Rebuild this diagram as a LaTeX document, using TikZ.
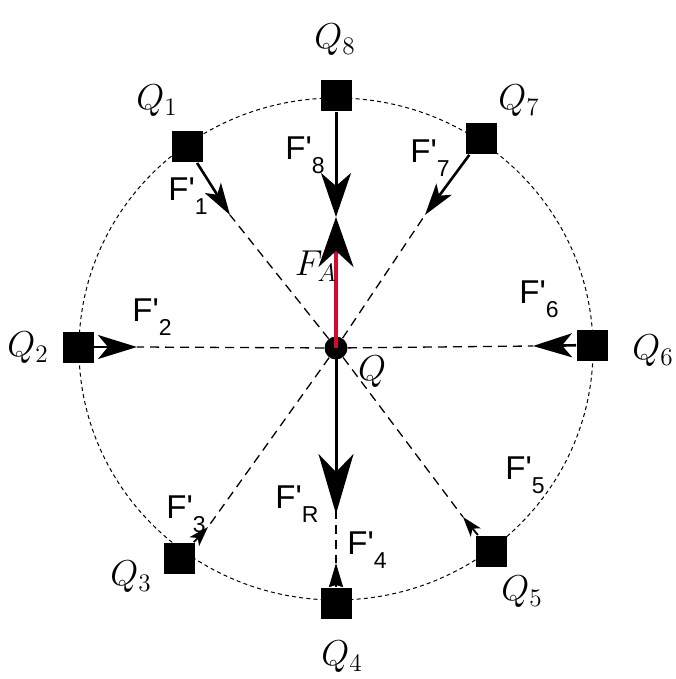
\RequirePackage{fix-cm}
\documentclass[tikz,border=0pt]{standalone}
\usepackage{fontspec}
\newfontfamily\flabelfont{Liberation Sans}
\usetikzlibrary{arrows.meta}
\definecolor{fred}{RGB}{210,10,50}
\newcommand\Fprime[1]{{\flabelfont\fontsize{16.5}{18}\selectfont F\char39\raisebox{-0.42em}{\fontsize{11.5}{12}\selectfont #1}}}
\begin{document}
\begin{tikzpicture}[x=0.5pt,y=-0.5pt,
  charge/.style={rectangle,fill=black,minimum size=15.5pt,inner sep=0pt},
  centre/.style={circle,fill=black,minimum size=11.5pt,inner sep=0pt},
  radial/.style={line width=0.65pt,dash pattern=on 4.5pt off 3pt},
  orbit/.style={line width=0.5pt,dash pattern=on 2pt off 1.6pt},
  bigforce/.style={line width=1.5pt,-{Stealth[length=22pt,width=15pt,inset=6.5pt]}},
  fapull/.style={fred,line width=1.7pt,-{Stealth[black,length=25pt,width=17.5pt,inset=8pt]}},
  resforce/.style={line width=1.5pt,-{Stealth[length=30pt,width=17.5pt,inset=9pt]}},
  medforce/.style={line width=1.3pt,-{Stealth[length=16pt,width=9.5pt,inset=4pt]}},
  sideforce/.style={line width=1.3pt,-{Stealth[length=19.5pt,width=12pt,inset=5pt]}},
  smallforce/.style={line width=0.9pt,-{Stealth[length=10pt,width=6.5pt,inset=2.5pt]}},
  upforce/.style={line width=1pt,-{Stealth[length=12pt,width=7pt,inset=1pt]}},
  qlbl/.style={inner sep=0pt,font=\fontsize{18}{20}\selectfont},
  flbl/.style={inner sep=0pt}
]
\useasboundingbox (0,0) rectangle (675,679);
\draw[orbit] (336,349) ellipse [x radius=257, y radius=251];

\node[centre] (q) at (336,348) {};
\node[charge] (q1) at (187,147) {};
\node[charge] (q2) at (78,347) {};
\node[charge] (q3) at (179,558) {};
\node[charge] (q4) at (336,603) {};
\node[charge] (q5) at (491,551) {};
\node[charge] (q6) at (592,345) {};
\node[charge] (q7) at (481,139) {};
\node[charge] (q8) at (336,96) {};

\coordinate (t1) at (230,215);
\coordinate (t2) at (137,347);
\coordinate (t3) at (208,527);
\coordinate (t4) at (336,563);
\coordinate (t5) at (463,517);
\coordinate (t6) at (533,346);
\coordinate (t7) at (425,215);
\coordinate (t8) at (336,217);
\coordinate (tA) at (336,217);
\coordinate (tR) at (336,514);

\foreach \i in {1,2,3,4,5,6,7} \draw[radial] (q) -- (t\i);

\draw[bigforce] (q8) -- (t8);
\draw[fapull] (q.center) -- (tA);
\draw[resforce] (q.center) -- (tR);
\draw[medforce] (q1) -- (t1);
\draw[medforce] (q7) -- (t7);
\draw[sideforce] (q2) -- (t2);
\draw[sideforce] (q6) -- (t6);
\draw[smallforce] (q3) -- (t3);
\draw[smallforce] (q5) -- (t5);
\draw[upforce] (q4) -- (t4);

\node[qlbl] (l1) at (157,101) {$Q_1$};
\node[qlbl] (l2) at (28,348) {$Q_2$};
\node[qlbl] (l3) at (131,577) {$Q_3$};
\node[qlbl] (l4) at (342,657) {$Q_4$};
\node[qlbl] (l5) at (522,592) {$Q_5$};
\node[qlbl] (l6) at (653,351) {$Q_6$};
\node[qlbl] (l7) at (519,101) {$Q_7$};
\node[qlbl] (l8) at (335,40) {$Q_8$};
\node[qlbl] (lq) at (372,372) {$Q$};
\node[qlbl] (lA) at (316,266) {$F_A$};

\node[flbl] (f1) at (188,196) {\Fprime{1}};
\node[flbl] (f2) at (152,317) {\Fprime{2}};
\node[flbl] (f3) at (186,514) {\Fprime{3}};
\node[flbl] (f4) at (367,550) {\Fprime{4}};
\node[flbl] (f5) at (525,475) {\Fprime{5}};
\node[flbl] (f6) at (539,299) {\Fprime{6}};
\node[flbl] (f7) at (430,158) {\Fprime{7}};
\node[flbl] (f8) at (305,155) {\Fprime{8}};
\node[flbl] (fR) at (297,504) {\Fprime{R}};
\end{tikzpicture}
\end{document}
